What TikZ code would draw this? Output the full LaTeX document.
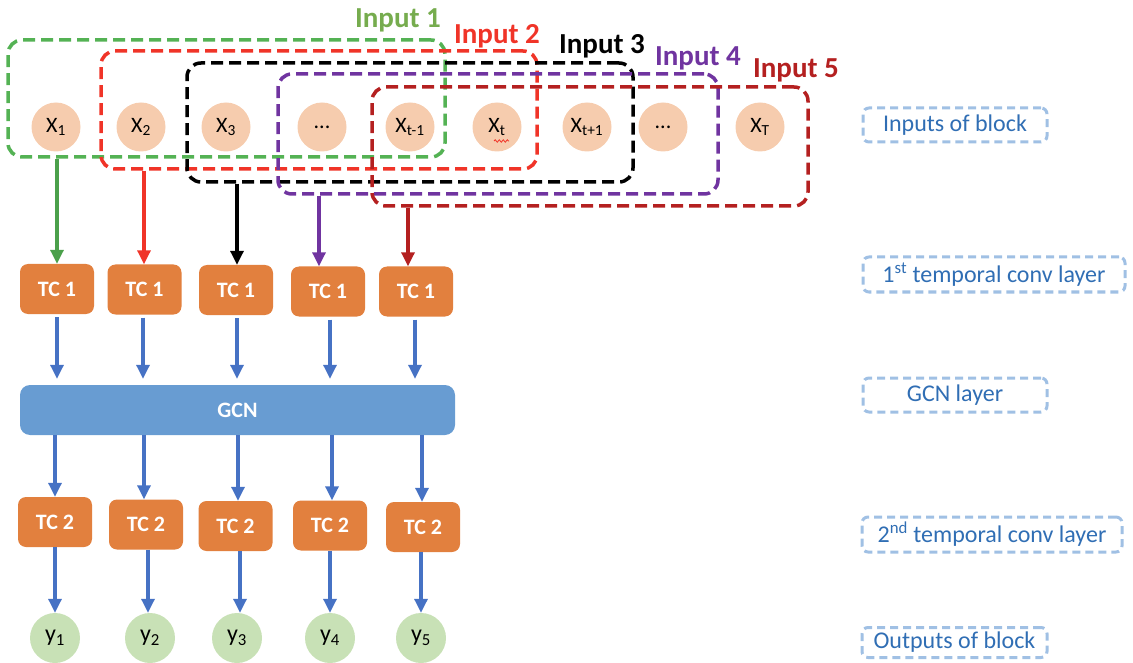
\documentclass[tikz,border=0pt]{standalone}
\usepackage{fontspec}
\setmainfont{Carlito}
\usetikzlibrary{arrows.meta,shapes.geometric,decorations.pathmorphing,calc}

\definecolor{gLine}{RGB}{84,178,84}
\definecolor{gText}{RGB}{118,172,78}
\definecolor{rLine}{RGB}{240,52,40}
\definecolor{pLine}{RGB}{112,52,160}
\definecolor{dLine}{RGB}{180,32,32}
\definecolor{tcFill}{RGB}{226,128,62}
\definecolor{gcnFill}{RGB}{104,156,210}
\definecolor{flowBlue}{RGB}{70,114,196}
\definecolor{peach}{RGB}{246,204,174}
\definecolor{mint}{RGB}{200,225,182}
\definecolor{tagText}{RGB}{48,110,180}
\definecolor{tagLine}{RGB}{160,192,228}

\tikzset{
  window/.style={draw=#1, line width=3.5pt, dash pattern=on 12pt off 6pt,
    rounded corners=14pt, inner sep=0pt},
  winlabel/.style={text=#1, font=\bfseries\fontsize{29}{29}\selectfont, inner sep=0pt},
  incirc/.style={circle, fill=peach, minimum size=49pt, inner sep=0pt,
    font=\fontsize{22}{22}\selectfont},
  outcirc/.style={circle, fill=mint, minimum size=50pt, inner sep=0pt,
    font=\fontsize{24}{24}\selectfont},
  tcbox/.style={rectangle, rounded corners=8pt, fill=tcFill, minimum width=74pt,
    minimum height=50pt, inner sep=0pt, text=white,
    font=\bfseries\fontsize{22}{22}\selectfont},
  gcnbox/.style={rectangle, rounded corners=10pt, fill=gcnFill, minimum width=435pt,
    minimum height=50pt, inner sep=0pt, text=white,
    font=\bfseries\fontsize{22}{22}\selectfont},
  tag/.style={draw=tagLine, line width=3pt, dash pattern=on 8pt off 5pt,
    rounded corners=6pt, text=tagText, inner sep=0pt,
    font=\fontsize{24}{24}\selectfont},
  feed/.style={line width=3.2pt, -{Triangle[length=14pt,width=13pt]}},
}

\begin{document}
\begin{tikzpicture}[x=1pt, y=-1pt]
\useasboundingbox (0,0) rectangle (1133,663);

% input sequence
\node[incirc] (x1) at (56,127) {X\textsubscript{1}};
\node[incirc] (x2) at (141,127) {X\textsubscript{2}};
\node[incirc] (x3) at (226,127) {X\textsubscript{3}};
\node[incirc] (xd1) at (322,127) {...};
\node[incirc] (xtm) at (410,127) {X\textsubscript{t-1}};
\node[incirc] (xt) at (497,127) {X\textsubscript{t}};
\node[incirc] (xtp) at (587,127) {X\textsubscript{t+1}};
\node[incirc] (xd2) at (663,127) {...};
\node[incirc] (xT) at (760,127) {X\textsubscript{T}};
\draw[rLine, line width=0.8pt, decorate,
  decoration={snake, amplitude=1.2pt, segment length=4pt}]
  ($(xt.center)+(-3,14)$) -- ($(xt.center)+(12,14)$);

% sliding input windows
\node[window=gLine, minimum width=437pt, minimum height=117pt] (w1) at (226.5,98.5) {};
\node[window=rLine, minimum width=436pt, minimum height=118pt] (w2) at (319,110) {};
\node[window=black, minimum width=446pt, minimum height=119pt] (w3) at (410,122.5) {};
\node[window=pLine, minimum width=440pt, minimum height=120pt] (w4) at (498,134) {};
\node[window=dLine, minimum width=436pt, minimum height=119pt] (w5) at (590,146.5) {};

\node[winlabel=gText] (l1) at (398,20) {Input 1};
\node[winlabel=rLine] (l2) at (497,36) {Input 2};
\node[winlabel=black] (l3) at (602,46) {Input 3};
\node[winlabel=pLine] (l4) at (698,58) {Input 4};
\node[winlabel=dLine] (l5) at (796,70) {Input 5};

% first temporal convolution
\node[tcbox] (a1) at (57,289) {TC 1};
\node[tcbox] (a2) at (144.5,289.5) {TC 1};
\node[tcbox] (a3) at (236,290) {TC 1};
\node[tcbox] (a4) at (328,291.5) {TC 1};
\node[tcbox] (a5) at (416,291.5) {TC 1};

\coordinate (k1) at (57,0);
\coordinate (k2) at (144,0);
\coordinate (k3) at (237,0);
\coordinate (k4) at (319,0);
\coordinate (k5) at (408,0);
\draw[feed, gLine!90!black] (w1.south -| k1) -- (k1 |- a1.north);
\draw[feed, rLine] (w2.south -| k2) -- (k2 |- a2.north);
\draw[feed, black] (w3.south -| k3) -- (k3 |- a3.north);
\draw[feed, pLine] (w4.south -| k4) -- (k4 |- a4.north);
\draw[feed, dLine] (w5.south -| k5) -- (k5 |- a5.north);

% graph convolution
\node[gcnbox] (g) at (237.5,410) {GCN};

\coordinate (m1) at (57,0);
\coordinate (m2) at (143,0);
\coordinate (m3) at (237,0);
\coordinate (m4) at (330,0);
\coordinate (m5) at (415,0);
\foreach \i in {1,...,5}
  \draw[feed, flowBlue, shorten <=3pt, shorten >=6pt] (a\i.south -| m\i) -- (m\i |- g.north);

% second temporal convolution
\node[tcbox] (b1) at (55,522) {TC 2};
\node[tcbox] (b2) at (146,524.5) {TC 2};
\node[tcbox] (b3) at (235.5,526) {TC 2};
\node[tcbox] (b4) at (330,525.5) {TC 2};
\node[tcbox] (b5) at (423,527) {TC 2};

\coordinate (n1) at (55,0);
\coordinate (n2) at (144,0);
\coordinate (n3) at (238,0);
\coordinate (n4) at (332,0);
\coordinate (n5) at (422,0);
\foreach \i in {1,...,5}
  \draw[feed, flowBlue] (g.south -| n\i) -- (n\i |- b\i.north);

% block outputs
\node[outcirc] (y1) at (55,638) {y\textsubscript{1}};
\node[outcirc] (y2) at (150,638) {y\textsubscript{2}};
\node[outcirc] (y3) at (237,638) {y\textsubscript{3}};
\node[outcirc] (y4) at (330,638) {y\textsubscript{4}};
\node[outcirc] (y5) at (421,638) {y\textsubscript{5}};

\coordinate (p1) at (55,0);
\coordinate (p2) at (148,0);
\coordinate (p3) at (240,0);
\coordinate (p4) at (330,0);
\coordinate (p5) at (421,0);
\foreach \i in {1,...,5}
  \draw[feed, flowBlue] (b\i.south -| p\i) -- (p\i |- y\i.north);

% layer legend
\node[tag, minimum width=184pt, minimum height=34pt] (t1) at (955,125) {Inputs of block};
\node[tag, minimum width=262pt, minimum height=35pt] (t2) at (994,274.5) {1\textsuperscript{st} temporal conv layer};
\node[tag, minimum width=184pt, minimum height=34pt] (t3) at (955,395) {GCN layer};
\node[tag, minimum width=260pt, minimum height=35pt] (t4) at (992,534.5) {2\textsuperscript{nd} temporal conv layer};
\node[tag, minimum width=185pt, minimum height=30pt] (t5) at (954.5,642.5) {Outputs of block};
\end{tikzpicture}
\end{document}
